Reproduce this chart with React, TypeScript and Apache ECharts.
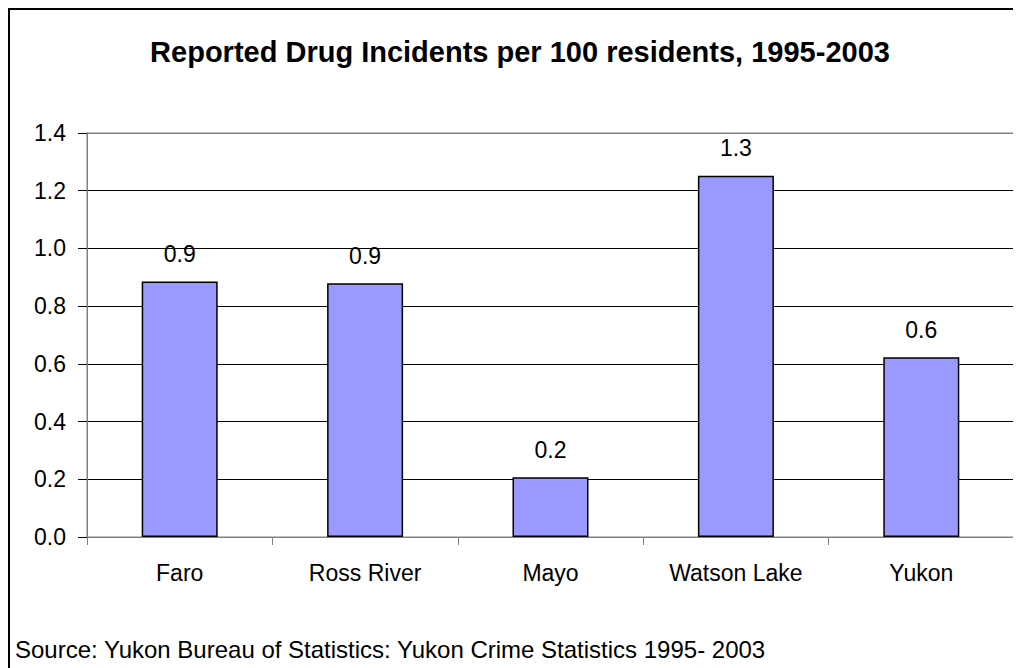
import React, { useEffect, useRef } from "react";
import * as echarts from "echarts";

const categories = ["Faro", "Ross River", "Mayo", "Watson Lake", "Yukon"];
const incidents = [0.885, 0.879, 0.207, 1.252, 0.623];
const titleText = "Reported Drug Incidents per 100 residents, 1995-2003";
const sourceText = "Source: Yukon Bureau of Statistics: Yukon Crime Statistics 1995- 2003";

const FONT = "'Liberation Sans', Arial, sans-serif";

export default function App() {
  const ref = useRef<HTMLDivElement>(null);
  useEffect(() => {
    if (!ref.current) return;
    const chart = echarts.init(ref.current, null, { renderer: "svg" });
    chart.setOption({
      animation: false,
      backgroundColor: "#fff",
      textStyle: { fontFamily: FONT },
      grid: {
        left: 77,
        top: 123,
        right: 7,
        bottom: 131,
        show: true,
        borderColor: "#808080",
        borderWidth: 1,
        backgroundColor: "transparent",
      },
      graphic: [
        {
          type: "text",
          x: 510,
          y: 42,
          style: {
            text: titleText,
            font: `bold 29px ${FONT}`,
            fill: "#000",
            textAlign: "center",
            textVerticalAlign: "middle",
          },
        },
        {
          type: "text",
          x: 5,
          y: 639,
          style: {
            text: sourceText,
            font: `24px ${FONT}`,
            fill: "#000",
            textAlign: "left",
            textVerticalAlign: "middle",
          },
        },
      ],
      xAxis: {
        type: "category",
        data: categories,
        boundaryGap: true,
        axisLine: { show: true, lineStyle: { color: "#808080", width: 1 } },
        axisTick: { show: true, length: 8, inside: false, lineStyle: { color: "#808080" } },
        axisLabel: { margin: 24, fontSize: 23, color: "#000", fontFamily: FONT },
        splitLine: { show: false },
      },
      yAxis: {
        type: "value",
        min: 0,
        max: 1.4,
        interval: 0.2,
        axisLine: { show: true, lineStyle: { color: "#808080", width: 1 } },
        axisTick: { show: true, length: 9, inside: false, lineStyle: { color: "#000" } },
        axisLabel: {
          margin: 21,
          fontSize: 23,
          color: "#000",
          fontFamily: FONT,
          formatter: (v: number) => v.toFixed(1),
        },
        splitLine: {
          show: true,
          lineStyle: {
            color: ["#000", "#000", "#000", "#000", "#000", "#000", "#000", "#808080"],
            width: 1,
          },
        },
      },
      series: [
        {
          type: "bar",
          data: incidents,
          barWidth: "41%",
          itemStyle: { color: "#9999FF", borderColor: "#000", borderWidth: 1.5 },
          label: {
            show: true,
            position: "top",
            distance: 16,
            fontSize: 23,
            color: "#000",
            fontFamily: FONT,
            formatter: (p: any) => Number(p.value).toFixed(1),
          },
        },
      ],
    });
    return () => chart.dispose();
  }, []);
  return (
    <div
      style={{
        width: 1013,
        height: 660,
        boxSizing: "border-box",
        borderTop: "2px solid #000",
        borderLeft: "2px solid #000",
        background: "#fff",
      }}
    >
      <div ref={ref} style={{ width: 1011, height: 658 }} />
    </div>
  );
}
